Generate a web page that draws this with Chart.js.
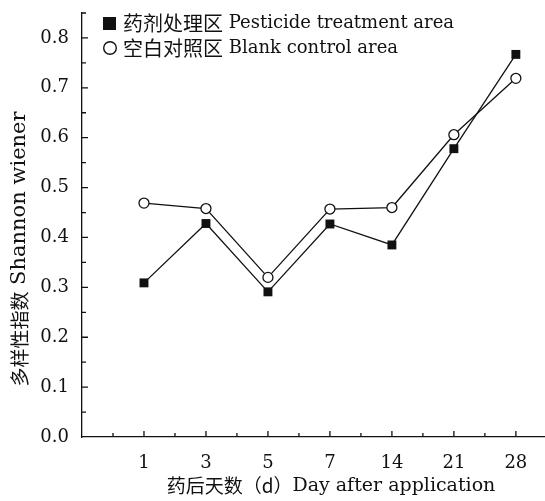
<!DOCTYPE html>
<html>
<head>
<meta charset="utf-8">
<script src="https://cdn.jsdelivr.net/npm/chart.js@4"></script>
<style>
  body { margin: 0; background: #fff; }
  #wrap { width: 545px; height: 501px; }
</style>
</head>
<body>
<div id="wrap"><canvas id="myChart" width="545" height="501"></canvas></div>
<script>
var days = ['1', '3', '5', '7', '14', '21', '28'];
var pesticide = [0.309, 0.428, 0.291, 0.427, 0.385, 0.578, 0.767];
var blank = [0.469, 0.458, 0.320, 0.457, 0.460, 0.606, 0.719];
var seriesZh = ['药剂处理区', '空白对照区'];
var seriesEn = ['Pesticide treatment area', 'Blank control area'];

var ink = '#111';
var serif = '"DejaVu Serif", "Noto Sans CJK SC", serif';
var cjk = '"Noto Sans CJK SC", serif';

function toPoints(arr) {
    return arr.map(function (v, i) { return { x: i, y: v }; });
}

// draw text made of pieces with different fonts
function drawMixed(ctx, parts, x, y, align) {
    var total = 0;
    parts.forEach(function (p) {
        ctx.font = p.font;
        p.w = ctx.measureText(p.text).width;
        total += p.w;
    });
    var cx = align === 'center' ? x - total / 2 : x;
    ctx.textAlign = 'left';
    ctx.textBaseline = 'middle';
    parts.forEach(function (p) {
        ctx.font = p.font;
        ctx.fillText(p.text, cx, y);
        cx += p.w;
    });
}

// inward tick marks, legend and axis titles
var extras = {
    id: 'extras',
    afterDraw: function (chart) {
        var ctx = chart.ctx;
        var xs = chart.scales.x, ys = chart.scales.y;
        ctx.save();
        ctx.strokeStyle = ink;
        ctx.lineWidth = 1.3;
        ctx.beginPath();
        xs.ticks.forEach(function (t) {
            if (t.value <= xs.min || t.value > xs.max) return;
            var px = xs.getPixelForValue(t.value);
            var len = Number.isInteger(t.value) ? 6 : 4;
            ctx.moveTo(px, ys.bottom);
            ctx.lineTo(px, ys.bottom - len);
        });
        ys.ticks.forEach(function (t) {
            if (t.value <= 0) return;
            var py = ys.getPixelForValue(t.value);
            var len = Math.round(t.value * 100) % 10 === 0 ? 6 : 4;
            ctx.moveTo(xs.left, py);
            ctx.lineTo(xs.left + len, py);
        });
        ctx.stroke();

        // legend
        ctx.fillStyle = ink;
        ctx.fillRect(103, 17, 13, 13);
        drawMixed(ctx, [{ text: seriesZh[0], font: '20px ' + cjk }, { text: ' ' + seriesEn[0], font: '18px ' + serif }], 123, 23, 'left');
        ctx.beginPath();
        ctx.lineWidth = 1.4;
        ctx.arc(110, 48, 6.3, 0, Math.PI * 2);
        ctx.stroke();
        drawMixed(ctx, [{ text: seriesZh[1], font: '20px ' + cjk }, { text: ' ' + seriesEn[1], font: '18px ' + serif }], 123, 48, 'left');

        // x title
        drawMixed(ctx, [{ text: '药后天数（d）', font: '19px ' + cjk }, { text: 'Day after application', font: '19px ' + serif }], 331, 486, 'center');

        // y title
        ctx.translate(20, 249);
        ctx.rotate(-Math.PI / 2);
        drawMixed(ctx, [{ text: '多样性指数', font: '19px ' + cjk }, { text: ' Shannon wiener', font: '21px ' + serif }], 0, 0, 'center');
        ctx.restore();
    }
};

var ctx = document.getElementById('myChart').getContext('2d');
var myChart = new Chart(ctx, {
    type: 'line',
    data: {
        datasets: [{
            label: seriesZh[0] + ' ' + seriesEn[0],
            data: toPoints(pesticide),
            borderColor: ink,
            backgroundColor: ink,
            borderWidth: 1.3,
            pointStyle: 'rect',
            pointRadius: 6.3,
            pointBorderWidth: 0
        }, {
            label: seriesZh[1] + ' ' + seriesEn[1],
            data: toPoints(blank),
            borderColor: ink,
            backgroundColor: '#fff',
            borderWidth: 1.3,
            pointStyle: 'circle',
            pointRadius: 5,
            pointBorderWidth: 1.3
        }]
    },
    options: {
        responsive: false,
        animation: false,
        plugins: {
            legend: { display: false },
            tooltip: { enabled: false }
        },
        layout: {
            autoPadding: false,
            padding: { top: 13, right: 0, bottom: 0, left: 0 }
        },
        scales: {
            x: {
                type: 'linear',
                min: -1,
                max: 6.47,
                afterBuildTicks: function (s) {
                    var t = [];
                    for (var v = -1; v <= 6.5; v += 0.5) t.push({ value: v });
                    s.ticks = t;
                },
                afterFit: function (s) { s.height = 64; s.paddingLeft = 0; s.paddingRight = 0; },
                grid: { display: false, drawTicks: false },
                border: { display: true, color: ink, width: 1.3 },
                ticks: {
                    autoSkip: false,
                    maxRotation: 0,
                    padding: 16,
                    color: ink,
                    font: { family: serif, size: 18 },
                    callback: function (v) {
                        return Number.isInteger(v) && v >= 0 && v < days.length ? days[v] : '';
                    }
                }
            },
            y: {
                min: 0,
                max: 0.85,
                afterBuildTicks: function (s) {
                    var t = [];
                    for (var i = 0; i <= 17; i++) t.push({ value: i * 0.05 });
                    s.ticks = t;
                },
                afterFit: function (s) { s.width = 82; s.paddingTop = 0; s.paddingBottom = 0; },
                grid: { display: false, drawTicks: false },
                border: { display: true, color: ink, width: 1.3 },
                ticks: {
                    autoSkip: false,
                    padding: 13,
                    color: ink,
                    font: { family: serif, size: 18 },
                    callback: function (v) {
                        var k = Math.round(v * 100);
                        return (k % 10 === 0 && k <= 80) ? (k / 100).toFixed(1) : '';
                    }
                }
            }
        }
    },
    plugins: [extras]
});
</script>
</body>
</html>
